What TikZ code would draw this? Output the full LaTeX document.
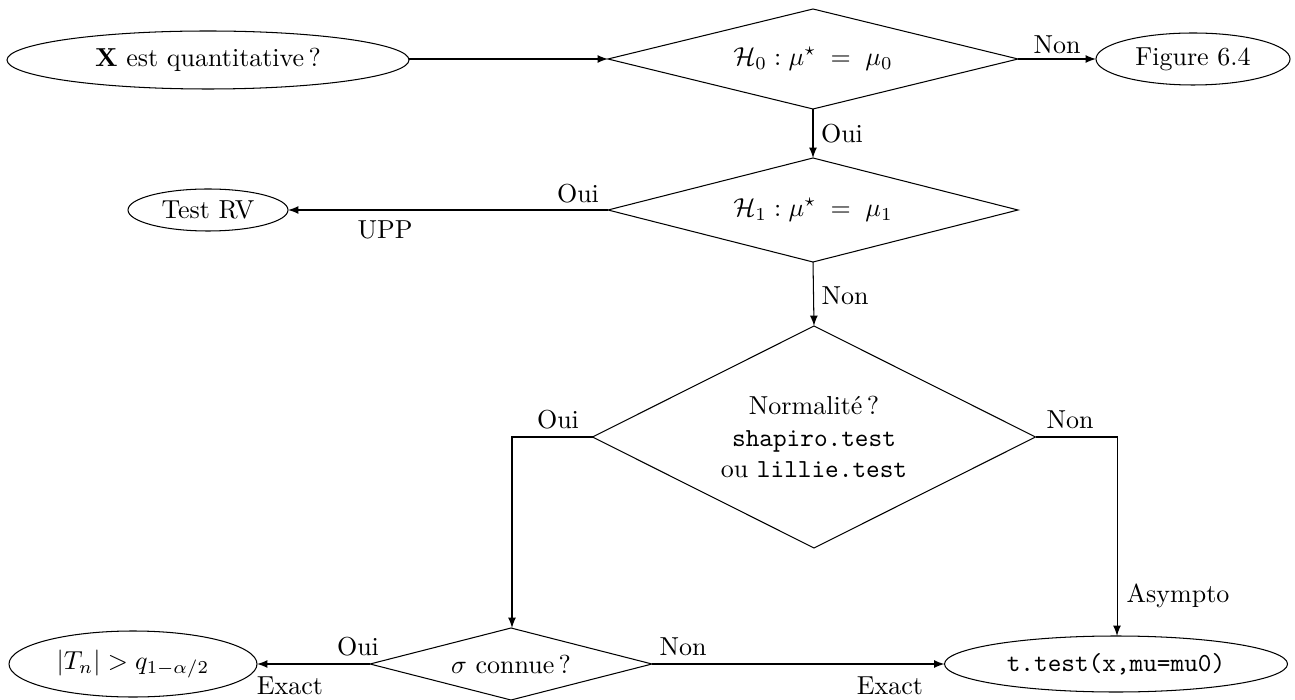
\documentclass[tikz,border=0pt]{standalone}
\usetikzlibrary{shapes.geometric,arrows}
\begin{document}
\begin{tikzpicture}[x=0.3846pt,y=-0.3846pt,
  ell/.style={ellipse,draw,inner sep=0pt,outer sep=0pt},
  dia/.style={rectangle,draw=none,inner sep=0pt,outer sep=0pt,align=center},
  lbl/.style={inner sep=0pt},
  arr/.style={-latex,line width=0.4pt}]
\useasboundingbox (0,0) rectangle (1295,700);
% nodes
\node[ell,minimum width={402*0.3846pt},minimum height={58*0.3846pt}] (q) at (208,60) {$\mathbf{X}$ est quantitative\,?};
\node[dia,minimum width={410*0.3846pt},minimum height={100*0.3846pt}] (h0) at (813,59) {$\mathcal{H}_0 : \mu^{\star} \;=\; \mu_0$};
\node[ell,minimum width={194*0.3846pt},minimum height={52*0.3846pt}] (fig) at (1193,59) {Figure 6.4};
\node[dia,minimum width={410*0.3846pt},minimum height={104*0.3846pt}] (h1) at (813,210) {$\mathcal{H}_1 : \mu^{\star} \;=\; \mu_1$};
\node[ell,minimum width={160*0.3846pt},minimum height={42*0.3846pt}] (rv) at (208,210) {Test RV};
\node[dia,minimum width={443*0.3846pt},minimum height={222*0.3846pt}] (nor) at (814,437) {Normalit\'e\,?\\\texttt{shapiro.test}\\ou \texttt{lillie.test}};
\node[dia,minimum width={282*0.3846pt},minimum height={72*0.3846pt}] (sig) at (511,664) {$\sigma$ connue\,?};
\node[ell,minimum width={248*0.3846pt},minimum height={66*0.3846pt}] (tn) at (133,664) {$|T_n| > q_{1-\alpha/2}$};
\node[ell,minimum width={343*0.3846pt},minimum height={56*0.3846pt}] (tt) at (1116,664) {\texttt{t.test(x,mu=mu0)}};
% diamond outlines
\foreach \d in {h0,h1,nor,sig}
  \draw (\d.west) -- (\d.north) -- (\d.east) -- (\d.south) -- cycle;
% bends
\coordinate (bl) at (512,437);
\coordinate (br) at (1117,437);
% connectors
\draw[arr] (q.east |- h0.west) -- (h0.west);
\draw[arr] (h0.east) -- (fig.west);
\draw[arr] (h0.south) -- (h1.north);
\draw[arr] (h1.west) -- (rv.east);
\draw[arr] (h1.south) -- (nor.north);
\draw[arr] (nor.west) -- (bl) -- (bl |- sig.north);
\draw[arr] (nor.east) -- (br) -- (br |- tt.north);
\draw[arr] (sig.west) -- (tn.east);
\draw[arr] (sig.east) -- (tt.west);
% labels
\node[lbl] (l1) at (1057,45) {Non};
\node[lbl] (l2) at (842,134) {Oui};
\node[lbl] (l3) at (578,194) {Oui};
\node[lbl] (l4) at (385,230) {UPP};
\node[lbl] (l5) at (845,296) {Non};
\node[lbl] (l6) at (558,420) {Oui};
\node[lbl] (l7) at (1070,420) {Non};
\node[lbl] (l8) at (1178,596) {Asympto};
\node[lbl] (l9) at (358,647) {Oui};
\node[lbl] (l10) at (290,686) {Exact};
\node[lbl] (l11) at (683,647) {Non};
\node[lbl] (l12) at (890,686) {Exact};
\end{tikzpicture}
\end{document}
